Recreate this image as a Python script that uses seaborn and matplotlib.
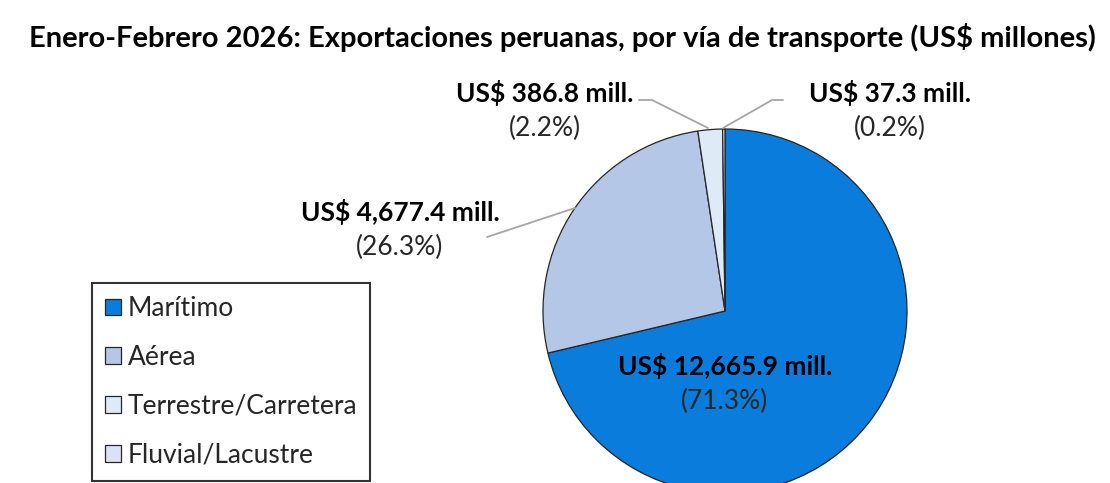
import matplotlib
matplotlib.use("Agg")
import matplotlib.pyplot as plt
import seaborn as sns

categories = ["Marítimo", "Aérea", "Terrestre/Carretera", "Fluvial/Lacustre"]
values = [12665.9, 4677.4, 386.8, 37.3]
value_labels = ["US$ 12,665.9 mill.", "US$ 4,677.4 mill.", "US$ 386.8 mill.", "US$ 37.3 mill."]
share_labels = ["(71.3%)", "(26.3%)", "(2.2%)", "(0.2%)"]
colors = ["#0A7CDC", "#B4C7E7", "#DEEBF7", "#DAE3F3"]

sns.set_theme(style="white")
plt.rcParams["font.family"] = ["Lato", "DejaVu Sans"]

W, H = 1110, 483
fig = plt.figure(figsize=(W / 100, H / 100), dpi=100)
ax = fig.add_axes([0, 0, 1, 1])


def Y(y):
    return H - y


wedges, _ = ax.pie(values, colors=sns.color_palette(colors), startangle=90,
                   counterclock=False, center=(725, Y(311)), radius=182,
                   frame=True, wedgeprops=dict(edgecolor="#262626", linewidth=0.9))
ax.set_xlim(0, W)
ax.set_ylim(0, H)
ax.set_axis_off()

fig.text(562 / W, 1 - 38 / H, "Enero-Febrero 2026: Exportaciones peruanas, por vía de transporte (US$ millones)",
         ha="center", va="center", fontsize=21, fontweight="bold", color="black")

# label positions (pixels from top)
pos = [(725, 366), (400, 212), (545, 93), (890, 93)]
for (x, y), v, s in zip(pos, value_labels, share_labels):
    ax.text(x, Y(y), v, ha="center", va="center", fontsize=19, fontweight="bold", color="black")
    ax.text(x, Y(y + 35), s, ha="center", va="center", fontsize=19, color="#262626")

# leader lines
gray = "#A6A6A6"
ax.plot([487, 575], [Y(237), Y(208)], color=gray, lw=1.3)
ax.plot([639, 652, 708], [Y(100), Y(100), Y(128)], color=gray, lw=1.3)
ax.plot([783, 772, 723], [Y(100), Y(100), Y(128)], color=gray, lw=1.3)

leg = ax.legend(wedges, categories, loc="upper left",
                bbox_to_anchor=(92 / W, 1 - 283 / H), bbox_transform=fig.transFigure,
                frameon=True, fancybox=False, fontsize=19, handlelength=0.6,
                handleheight=0.6, handletextpad=0.25, labelspacing=0.9,
                borderpad=0.5, borderaxespad=0)
leg.get_frame().set_edgecolor("black")
leg.get_frame().set_linewidth(1.5)
for h in leg.legend_handles:
    h.set_edgecolor("#262626")
    h.set_linewidth(0.9)

fig.savefig("out.png", dpi=100)
